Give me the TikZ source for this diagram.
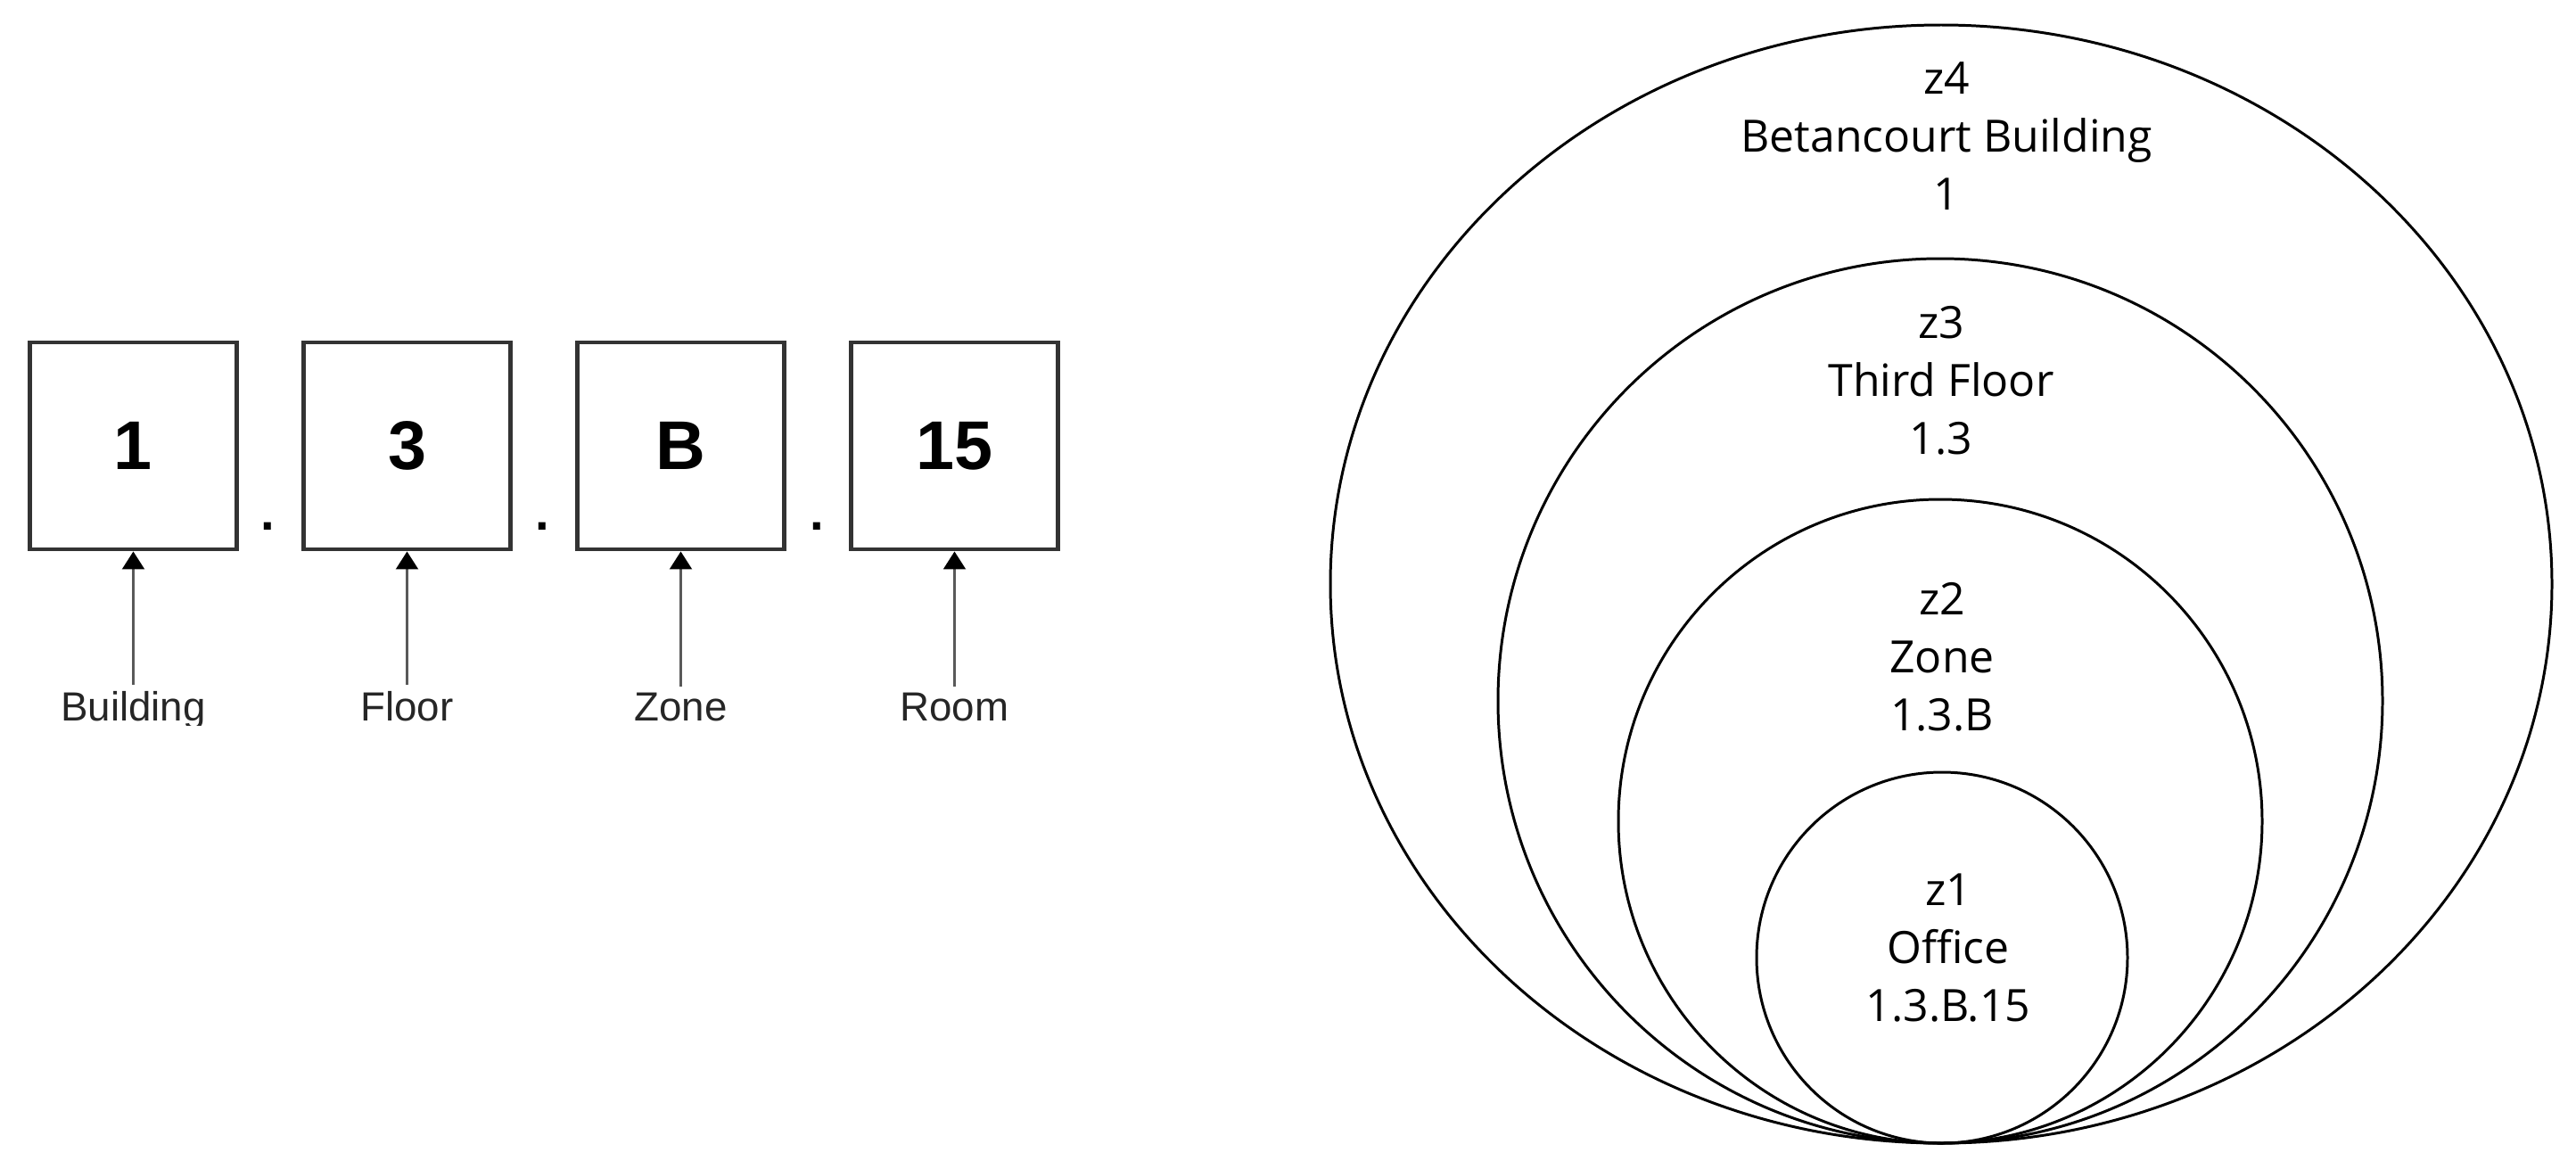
\documentclass[tikz,border=0pt]{standalone}
\usepackage{fontspec}
\setmainfont{Open Sans}
\newfontfamily\arialfont{Liberation Sans}
\usetikzlibrary{arrows.meta}

\begin{document}
\begin{tikzpicture}
\tikzstyle{digitbox}=[draw=black!80,line width=1.4pt,minimum size=2.32cm,inner sep=0pt,font=\arialfont\bfseries\fontsize{22}{26}\selectfont];
\tikzstyle{part}=[inner sep=0pt,outer sep=2pt,anchor=base,text=black!85,font=\arialfont\fontsize{13}{15}\selectfont];
\tikzstyle{sepdot}=[inner sep=0pt,anchor=base,font=\arialfont\bfseries\fontsize{16}{19}\selectfont];
\tikzstyle{pointer}=[draw=black!65,line width=0.6pt,-{Triangle[width=0.25cm,length=0.2cm,color=black]}];
\tikzstyle{zone}=[line width=0.85pt];
\tikzstyle{zonetext}=[align=center,inner sep=0pt,font=\fontsize{14.2}{18.5}\selectfont];

\useasboundingbox (0,0) rectangle (28.89,-13.10);

% address parts
\node[digitbox] (b1) at (1.495,-5.00) {1};
\node[digitbox] (b2) at (4.565,-5.00) {3};
\node[digitbox] (b3) at (7.635,-5.00) {B};
\node[digitbox] (b4) at (10.705,-5.00) {15};

\node[sepdot] (d1) at (3.00,-5.94) {.};
\node[sepdot] (d2) at (6.08,-5.94) {.};
\node[sepdot] (d3) at (9.16,-5.94) {.};

\begin{scope}
\clip (0,-7.4) rectangle (12.5,-8.13);
\node[part] (l1) at (1.495,-8.08) {Building};
\node[part] (l2) at (4.565,-8.08) {Floor};
\node[part] (l3) at (7.635,-8.08) {Zone};
\node[part] (l4) at (10.705,-8.08) {Room};
\end{scope}

\draw[pointer] (l1) -- (b1);
\draw[pointer] (l2) -- (b2);
\draw[pointer] (l3) -- (b3);
\draw[pointer] (l4) -- (b4);

% nested zones
\draw[zone] (21.77,-6.55) ellipse [x radius=6.85,y radius=6.27];
\draw[zone] (21.76,-7.86) circle [radius=4.96];
\draw[zone] (21.76,-9.21) circle [radius=3.61];
\draw[zone] (21.78,-10.74) circle [radius=2.08];

\node[zonetext] (z4) at (21.83,-1.53) {z4\\Betancourt Building\\1};
\node[zonetext] (z3) at (21.77,-4.27) {z3\\Third Floor\\1.3};
\node[zonetext] (z2) at (21.78,-7.37) {z2\\Zone\\1.3.B};
\node[zonetext] (z1) at (21.85,-10.63) {z1\\Office\\1.3.B.15};
\end{tikzpicture}
\end{document}
